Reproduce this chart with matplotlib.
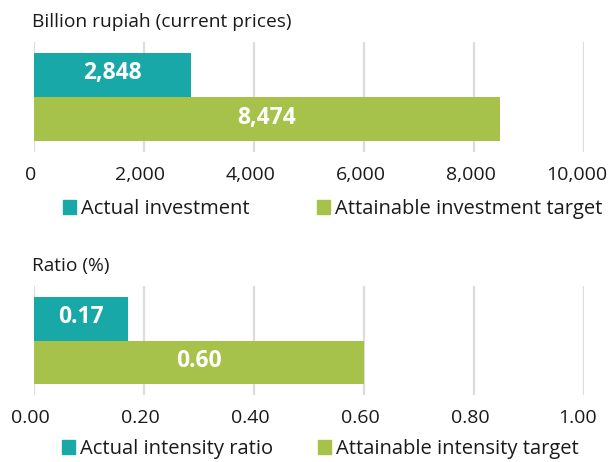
import matplotlib.pyplot as plt
import matplotlib.transforms as mtrans
from matplotlib.patches import Patch
from matplotlib.ticker import FuncFormatter

plt.rcParams['font.family'] = ['Open Sans', 'DejaVu Sans']

# data
inv_labels = ['Actual investment', 'Attainable investment target']
inv_values = [2848, 8474]
inv_ticks = [0, 2000, 4000, 6000, 8000, 10000]

ratio_labels = ['Actual intensity ratio', 'Attainable intensity target']
ratio_values = [0.17, 0.60]
ratio_ticks = [0.0, 0.2, 0.4, 0.6, 0.8, 1.0]

teal = '#19a8a8'
green = '#a6c24a'
W, H = 610, 462

fig = plt.figure(figsize=(W / 100, H / 100), dpi=100)


def panel(top, bottom, values, ticks, fmt, lbl_fmt, title, labels, title_y, leg_y, leg_xs):
    ax = fig.add_axes([34 / W, 1 - bottom / H, 550 / W, (bottom - top) / H])
    ypos = [1, 0]
    cols = [teal, green]
    bars = ax.barh(ypos, values, height=1.0, color=cols, zorder=3)
    for b, v in zip(bars, values):
        ax.text(v / 2, b.get_y() + b.get_height() / 2 + 0.03, lbl_fmt(v), color='white',
                fontsize=16.5, fontweight='bold', ha='center', va='center', zorder=4)
    ax.set_xlim(ticks[0], ticks[-1])
    ax.set_ylim(-0.74, 1.74)
    ax.set_xticks(ticks)
    ax.xaxis.set_major_formatter(FuncFormatter(fmt))
    ax.tick_params(axis='x', length=0, pad=10, labelsize=14, colors='#1a1a1a')
    labs = ax.get_xticklabels()
    for i, t in enumerate(labs):
        dx = -7 if i == len(labs) - 1 else -3.5
        t.set_transform(t.get_transform() + mtrans.ScaledTranslation(dx / 100, 0, fig.dpi_scale_trans))
    ax.set_yticks([])
    ax.grid(axis='x', color='#dcdcdc', linewidth=1.6, zorder=0)
    for s in ax.spines.values():
        s.set_visible(False)
    fig.text(32 / W, 1 - title_y / H, title, fontsize=13.8, color='#1a1a1a',
             ha='left', va='center')
    for c, lab, lx in zip(cols, labels, leg_xs):
        fig.legend([Patch(color=c)], [lab], loc='center left',
                   bbox_to_anchor=(lx / W, 1 - leg_y / H),
                   frameon=False, fontsize=14.5, handlelength=0.65, handleheight=0.65,
                   handletextpad=0.25, borderaxespad=0, borderpad=0, labelcolor='#1a1a1a')
    return ax


panel(42, 152, inv_values, inv_ticks, lambda x, p: f'{x:,.0f}', lambda v: f'{v:,.0f}',
      'Billion rupiah (current prices)', inv_labels, 22, 209, [63, 317])
panel(286, 395, ratio_values, ratio_ticks, lambda x, p: f'{x:.2f}', lambda v: f'{v:.2f}',
      'Ratio (%)', ratio_labels, 266, 449, [62, 318])

fig.savefig('out.png', dpi=100)
